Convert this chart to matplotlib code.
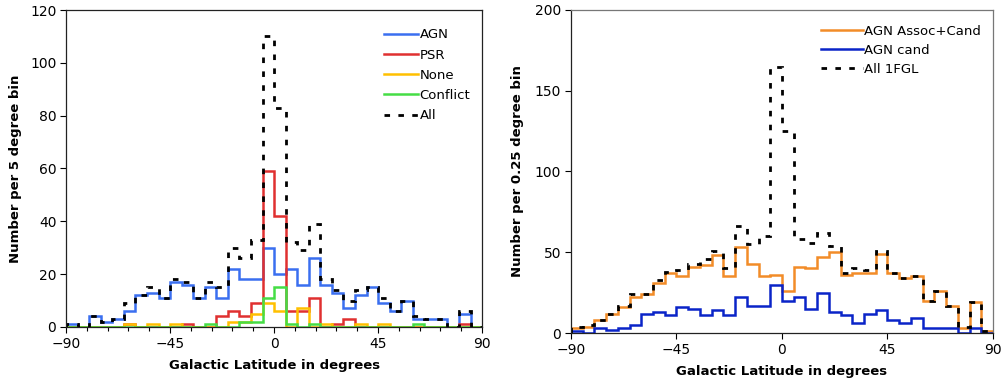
import matplotlib.pyplot as plt
import numpy as np

# bin edges: 5 degree bins from -90 to 90
edges = np.arange(-90, 95, 5)

# left panel: counts per 5 degree bin
agn = [1, 0, 4, 2, 3, 6, 12, 13, 11, 17, 16, 11, 15, 11, 22, 18, 18, 30,
       20, 22, 16, 26, 16, 13, 7, 12, 15, 9, 6, 10, 3, 3, 3, 0, 5, 0]
psr = [0, 0, 0, 0, 0, 1, 0, 0, 0, 0, 1, 0, 0, 4, 6, 4, 9, 59,
       42, 6, 6, 11, 0, 1, 3, 0, 0, 0, 0, 0, 0, 0, 0, 0, 1, 0]
none = [0, 0, 0, 0, 0, 1, 0, 1, 0, 1, 0, 0, 0, 0, 2, 2, 5, 9,
        6, 0, 7, 0, 1, 0, 0, 1, 0, 1, 0, 0, 0, 0, 0, 0, 0, 0]
conflict = [0, 0, 0, 0, 0, 0, 0, 0, 0, 0, 0, 0, 1, 0, 0, 2, 2, 11,
            15, 1, 0, 1, 0, 0, 0, 0, 0, 0, 0, 0, 1, 0, 0, 0, 0, 0]
all_src = [1, 0, 4, 2, 3, 9, 12, 15, 11, 18, 17, 11, 17, 15, 30, 26, 33, 110,
           83, 32, 29, 39, 18, 14, 10, 14, 15, 11, 6, 10, 4, 3, 3, 0, 6, 0]

# right panel
agn_assoc_cand = [3, 4, 8, 12, 16, 22, 24, 31, 37, 35, 41, 42, 48, 35, 53, 43, 35, 36,
                  26, 41, 40, 47, 50, 36, 37, 37, 49, 37, 34, 35, 20, 26, 17, 3, 19, 1]
agn_cand = [1, 0, 3, 2, 3, 5, 12, 13, 11, 16, 15, 11, 14, 11, 22, 17, 17, 30,
            20, 22, 15, 25, 13, 11, 6, 12, 14, 8, 6, 9, 3, 3, 3, 0, 3, 0]
all_1fgl = [4, 5, 8, 12, 17, 24, 24, 33, 38, 39, 43, 46, 51, 40, 66, 55, 60, 165,
            125, 58, 56, 62, 54, 37, 40, 39, 51, 37, 34, 35, 20, 26, 17, 4, 19, 1]

plt.rcParams['font.family'] = 'DejaVu Sans'

fig = plt.figure(figsize=(10.01, 3.86), dpi=100)
ax1 = fig.add_axes([0.066, 0.153, 0.4156, 0.821])
ax2 = fig.add_axes([0.5704, 0.1373, 0.4216, 0.8368])

dash = (0, (2, 3))

# left panel
ax1.stairs(agn, edges, color='#3A6FF0', lw=1.8, label='AGN')
ax1.stairs(psr, edges, color='#E03030', lw=1.8, label='PSR')
ax1.stairs(none, edges, color='#FFC000', lw=1.8, label='None')
ax1.stairs(conflict, edges, color='#45DD45', lw=1.8, label='Conflict')
ax1.stairs(all_src, edges, color='black', lw=2, linestyle=dash, label='All')

ax1.set_xlim(-90, 90)
ax1.set_ylim(0, 120)
ax1.set_xticks([-90, -45, 0, 45, 90])
ax1.set_xticks(np.arange(-90, 91, 9), minor=True)
ax1.set_yticks(np.arange(0, 121, 20))
ax1.set_xlabel('Galactic Latitude in degrees', fontsize=9.5, fontweight='bold')
ax1.set_ylabel('Number per 5 degree bin', fontsize=9.5, fontweight='bold')
ax1.legend(loc='upper right', bbox_to_anchor=(1.0, 0.98), frameon=False,
           fontsize=9.5, handlelength=2.6, handletextpad=0.1, labelspacing=0.55)

# right panel
ax2.stairs(agn_assoc_cand, edges, color='#F28C28', lw=1.8, label='AGN Assoc+Cand')
ax2.stairs(agn_cand, edges, color='#0A24C8', lw=1.8, label='AGN cand')
ax2.stairs(all_1fgl, edges, color='black', lw=2, linestyle=dash, label='All 1FGL')

ax2.set_xlim(-90, 90)
ax2.set_ylim(0, 200)
ax2.set_xticks([-90, -45, 0, 45, 90])
ax2.set_yticks(np.arange(0, 201, 50))
ax2.set_xlabel('Galactic Latitude in degrees', fontsize=9.5, fontweight='bold')
ax2.set_ylabel('Number per 0.25 degree bin', fontsize=9.5, fontweight='bold')
ax2.legend(loc='upper right', bbox_to_anchor=(1.0, 0.99), frameon=False,
           fontsize=9.5, handlelength=3.2, handletextpad=0.1, labelspacing=0.45)

for ax in (ax1, ax2):
    ax.tick_params(axis='both', which='major', direction='out', length=4,
                   width=0.8, labelsize=10, pad=3)
    ax.tick_params(axis='x', which='minor', direction='out', length=3, width=0.8)
    for s in ax.spines.values():
        s.set_linewidth(0.9)
        s.set_color('#222222')
ax2.spines['top'].set_color('#777777')
ax2.spines['right'].set_color('#777777')
ax1.yaxis.labelpad = 6
ax2.yaxis.labelpad = 8
ax1.xaxis.labelpad = 6
ax2.xaxis.labelpad = 6

fig.savefig('out.png', dpi=100)
